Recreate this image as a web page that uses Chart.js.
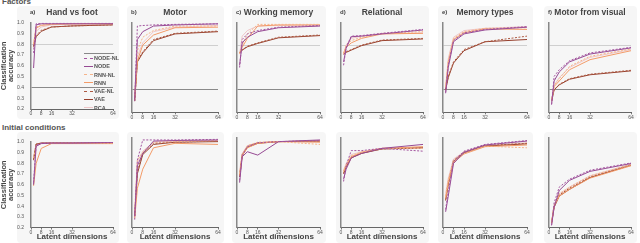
<!DOCTYPE html>
<html>
<head>
<meta charset="utf-8">
<script src="https://cdn.jsdelivr.net/npm/chart.js@4.4.0/dist/chart.umd.min.js"></script>
<style>
  body { margin: 0; width: 640px; height: 243px; overflow: hidden; background: #fff; position: relative;
         font-family: "Liberation Sans", Arial, sans-serif; }
  .box { position: absolute; background: #f6f6f6; border-radius: 4px; }
  canvas { position: absolute; }
  .txt { position: absolute; font-weight: bold; color: #444; white-space: nowrap; line-height: 1; }
  .leg { position: absolute; left: 84px; top: 53px; width: 30px; border-top: 1px solid #888; }
  .leg div { height: 8.3px; position: relative; font-size: 5.5px; font-weight: bold; color: #555; white-space: nowrap; }
  .leg span.s { position: absolute; left: 0; top: 3.5px; width: 9px; height: 0; }
  .leg span.t { position: absolute; left: 10px; top: 1px; }
</style>
</head>
<body>
<script>
// latent dimensions tested
const dims = [2, 4, 8, 16, 32, 64];
const xTicks = [0, 8, 16, 32, 64];
const models = ['NODE-NL', 'NODE', 'RNN-NL', 'RNN', 'VAE-NL', 'VAE', 'PCA'];
const panelLetters = ['a)', 'b)', 'c)', 'd)', 'e)', 'f)'];
const panelTitles = ['Hand vs foot', 'Motor', 'Working memory', 'Relational', 'Memory types', 'Motor from visual'];
const rowTitles = ['Factors', 'Initial conditions'];
// chance levels drawn in the top row
const chanceLevels = [0.8, 0.4];

// one row per panel: a-f factors, then a-f initial conditions
const nodeNL = [
  [0.72, 0.99, 0.995, 0.995, 0.995, 0.995],
  [0.30, 0.97, 0.975, 0.98, 0.985, 0.99],
  [0.60, 0.85, 0.90, 0.93, 0.96, 0.975],
  [0.62, 0.78, 0.88, 0.885, 0.905, 0.94],
  [0.38, 0.62, 0.84, 0.91, 0.94, 0.965],
  [0.27, 0.52, 0.58, 0.66, 0.73, 0.78],
  [0.62, 0.97, 0.99, 0.99, 0.99, 0.995],
  [0.27, 0.80, 0.98, 0.98, 0.98, 0.985],
  [0.62, 0.84, 0.92, 0.955, 0.965, 0.975],
  [0.61, 0.75, 0.885, 0.885, 0.905, 0.88],
  [0.36, 0.52, 0.79, 0.88, 0.94, 0.975],
  [0.22, 0.42, 0.56, 0.63, 0.71, 0.775]
];
const node = [
  [0.58, 0.98, 0.99, 0.99, 0.99, 0.99],
  [0.32, 0.85, 0.92, 0.97, 0.98, 0.99],
  [0.62, 0.82, 0.87, 0.92, 0.955, 0.97],
  [0.65, 0.77, 0.875, 0.88, 0.90, 0.935],
  [0.37, 0.60, 0.83, 0.90, 0.935, 0.96],
  [0.27, 0.48, 0.56, 0.65, 0.72, 0.775],
  [0.60, 0.96, 0.985, 0.99, 0.99, 0.995],
  [0.30, 0.75, 0.86, 0.97, 0.975, 0.98],
  [0.60, 0.83, 0.875, 0.845, 0.965, 0.98],
  [0.63, 0.72, 0.82, 0.86, 0.905, 0.94],
  [0.34, 0.48, 0.77, 0.87, 0.935, 0.97],
  [0.22, 0.38, 0.53, 0.62, 0.70, 0.77]
];
const rnnNL = [
  [0.80, 0.96, 0.98, 0.985, 0.99, 0.99],
  [0.35, 0.75, 0.87, 0.93, 0.97, 0.97],
  [0.72, 0.80, 0.90, 0.985, 0.985, 0.985],
  [0.72, 0.80, 0.84, 0.87, 0.905, 0.92],
  [0.42, 0.66, 0.86, 0.92, 0.95, 0.955],
  [0.30, 0.44, 0.50, 0.61, 0.70, 0.765],
  [0.85, 0.97, 0.985, 0.99, 0.99, 0.985],
  [0.35, 0.80, 0.87, 0.96, 0.965, 0.975],
  [0.68, 0.85, 0.93, 0.96, 0.965, 0.94],
  [0.70, 0.76, 0.84, 0.87, 0.905, 0.905],
  [0.48, 0.62, 0.80, 0.86, 0.925, 0.91],
  [0.25, 0.40, 0.50, 0.56, 0.66, 0.76]
];
const rnn = [
  [0.80, 0.95, 0.975, 0.985, 0.99, 0.99],
  [0.33, 0.66, 0.80, 0.89, 0.955, 0.96],
  [0.73, 0.78, 0.86, 0.97, 0.98, 0.98],
  [0.73, 0.78, 0.82, 0.86, 0.90, 0.905],
  [0.42, 0.64, 0.85, 0.91, 0.945, 0.94],
  [0.30, 0.43, 0.48, 0.58, 0.67, 0.75],
  [0.59, 0.80, 0.94, 0.985, 0.985, 0.985],
  [0.28, 0.55, 0.72, 0.91, 0.95, 0.94],
  [0.66, 0.84, 0.91, 0.95, 0.965, 0.96],
  [0.70, 0.75, 0.83, 0.87, 0.905, 0.92],
  [0.46, 0.60, 0.78, 0.855, 0.92, 0.935],
  [0.24, 0.39, 0.48, 0.54, 0.64, 0.75]
];
const vaeNL = [
  [0.78, 0.88, 0.93, 0.96, 0.97, 0.98],
  [0.30, 0.66, 0.74, 0.85, 0.905, 0.925],
  [0.73, 0.76, 0.79, 0.82, 0.87, 0.89],
  [0.72, 0.74, 0.76, 0.80, 0.845, 0.86],
  [0.40, 0.52, 0.65, 0.76, 0.83, 0.88],
  [0.30, 0.40, 0.45, 0.50, 0.54, 0.575],
  [0.84, 0.98, 0.99, 0.99, 0.99, 0.99],
  [0.30, 0.70, 0.86, 0.95, 0.96, 0.97],
  [0.66, 0.85, 0.92, 0.955, 0.965, 0.97],
  [0.68, 0.74, 0.83, 0.865, 0.90, 0.91],
  [0.45, 0.60, 0.80, 0.87, 0.93, 0.95],
  [0.24, 0.39, 0.49, 0.55, 0.65, 0.76]
];
const vae = [
  [0.78, 0.87, 0.92, 0.96, 0.97, 0.98],
  [0.30, 0.65, 0.73, 0.84, 0.90, 0.92],
  [0.73, 0.755, 0.785, 0.815, 0.865, 0.885],
  [0.72, 0.735, 0.755, 0.795, 0.84, 0.855],
  [0.40, 0.51, 0.64, 0.75, 0.83, 0.85],
  [0.30, 0.40, 0.445, 0.495, 0.535, 0.57],
  [0.83, 0.98, 0.99, 0.99, 0.99, 0.99],
  [0.30, 0.68, 0.85, 0.94, 0.96, 0.965],
  [0.65, 0.84, 0.915, 0.95, 0.965, 0.97],
  [0.68, 0.74, 0.82, 0.86, 0.90, 0.91],
  [0.44, 0.58, 0.79, 0.865, 0.925, 0.945],
  [0.24, 0.38, 0.48, 0.54, 0.645, 0.755]
];
const pca = [
  [0.75, 0.92, 0.96, 0.98, 0.985, 0.99],
  [0.32, 0.70, 0.82, 0.92, 0.96, 0.975],
  [0.72, 0.88, 0.93, 0.97, 0.975, 0.98],
  [0.72, 0.80, 0.86, 0.88, 0.90, 0.91],
  [0.41, 0.68, 0.87, 0.93, 0.95, 0.965],
  [0.30, 0.44, 0.51, 0.60, 0.69, 0.76],
  [0.86, 0.98, 0.99, 0.99, 0.99, 0.99],
  [0.32, 0.78, 0.88, 0.96, 0.97, 0.975],
  [0.70, 0.86, 0.93, 0.955, 0.965, 0.97],
  [0.71, 0.77, 0.85, 0.875, 0.905, 0.915],
  [0.50, 0.64, 0.81, 0.875, 0.93, 0.955],
  [0.25, 0.40, 0.50, 0.56, 0.66, 0.765]
];
const series = [nodeNL, node, rnnNL, rnn, vaeNL, vae, pca];

// styles
const colors = ['#a3559f', '#964a93', '#f6b48a', '#f39b68', '#ad5a42', '#963f2c', '#eec6c8'];
const dashed = [true, false, true, false, true, false, false];

// layout (pixels)
const plotL = [31, 132, 237, 341, 443, 549];
const plotR = [113, 218, 320, 423, 527, 631];
const boxL = [17, 127, 232, 336, 438, 544];
const rowBox = [[6, 119], [132, 243]];
const rowPlot = [[22.7, 112.3], [137.7, 227.5]];

function addText(txt, css) {
  const d = document.createElement('div');
  d.className = 'txt';
  d.textContent = txt;
  Object.assign(d.style, css);
  document.body.appendChild(d);
  return d;
}

function gridColor(r, ctx) {
  if (r !== 0 || !ctx.tick) return 'rgba(0,0,0,0)';
  const v = ctx.tick.value;
  if (Math.abs(v - chanceLevels[0]) < 1e-6) return '#cfcfcf';
  if (Math.abs(v - chanceLevels[1]) < 1e-6) return '#8a8a8a';
  return 'rgba(0,0,0,0)';
}

function makePanel(r, c) {
  const idx = r * 6 + c;
  const right = plotR[c] + 6;
  const top = rowBox[r][0], bottom = rowBox[r][1];
  const box = document.createElement('div');
  box.className = 'box';
  Object.assign(box.style, { left: boxL[c] + 'px', top: top + 'px', width: (right - boxL[c]) + 'px', height: (bottom - top) + 'px' });
  document.body.appendChild(box);

  const left = c === 0 ? 0 : boxL[c];
  const cv = document.createElement('canvas');
  cv.width = right - left;
  cv.height = bottom - top;
  cv.style.left = left + 'px';
  cv.style.top = top + 'px';
  document.body.appendChild(cv);

  new Chart(cv, {
    type: 'line',
    data: {
      datasets: models.map((m, k) => ({
        label: m,
        data: dims.map((d, i) => ({ x: d, y: series[k][idx][i] })),
        borderColor: colors[k],
        borderWidth: 1,
        borderDash: dashed[k] ? [2, 1.5] : [],
        pointRadius: 0,
        tension: 0,
        fill: false
      }))
    },
    options: {
      responsive: false,
      animation: false,
      devicePixelRatio: 1,
      layout: { padding: { top: rowPlot[r][0] - top, right: right - plotR[c], left: 0, bottom: 0 } },
      plugins: { legend: { display: false }, tooltip: { enabled: false } },
      scales: {
        x: {
          type: 'linear', min: 0, max: 64,
          afterBuildTicks: a => { a.ticks = xTicks.map(v => ({ value: v })); },
          afterFit: s => { s.height = bottom - rowPlot[r][1]; },
          grid: { display: true, drawOnChartArea: false, drawTicks: true, tickLength: 2, color: '#777' },
          border: { display: true, color: '#666', width: 1 },
          ticks: { font: { size: 5, family: 'Liberation Sans' }, color: '#555', padding: 0, maxRotation: 0, autoSkip: false },
          title: { display: r === 1, text: 'Latent dimensions', color: '#444',
                   font: { size: 8, weight: 'bold', family: 'Liberation Sans' }, padding: { top: 0, bottom: 1 } }
        },
        y: {
          min: 0.2, max: 1.0,
          afterFit: s => { s.width = plotL[c] - left; },
          ticks: { display: c === 0, stepSize: 0.1, font: { size: 5, family: 'Liberation Sans' }, color: '#555', padding: 7,
                   callback: v => v.toFixed(1) },
          grid: { drawTicks: false, lineWidth: 1, color: ctx => gridColor(r, ctx) },
          border: { display: true, color: '#888', width: 1.5 },
          title: { display: c === 0, text: ['Classification', 'accuracy'], color: '#444',
                   font: { size: 7.5, weight: 'bold', family: 'Liberation Sans', lineHeight: 1 }, padding: 0 }
        }
      }
    }
  });

  if (r === 0) {
    addText(panelLetters[c], { left: (plotL[c] - 1) + 'px', top: '9px', fontSize: '6px' });
    const t = addText(panelTitles[c], { left: ((plotL[c] + plotR[c]) / 2) + 'px', top: '8px', fontSize: '8.5px' });
    t.style.transform = 'translateX(-50%)';
  }
}

addText(rowTitles[0], { left: '2px', top: '-2px', fontSize: '8px', color: '#555' });
addText(rowTitles[1], { left: '2px', top: '124px', fontSize: '8px', color: '#555' });

for (let r = 0; r < 2; r++) {
  for (let c = 0; c < 6; c++) makePanel(r, c);
}

// legend inside panel a of the top row
const leg = document.createElement('div');
leg.className = 'leg';
models.forEach((m, k) => {
  const row = document.createElement('div');
  const s = document.createElement('span');
  s.className = 's';
  s.style.borderTop = '1.2px ' + (dashed[k] ? 'dashed ' : 'solid ') + colors[k];
  const t = document.createElement('span');
  t.className = 't';
  t.textContent = m;
  row.appendChild(s);
  row.appendChild(t);
  leg.appendChild(row);
});
document.body.appendChild(leg);
</script>
</body>
</html>
